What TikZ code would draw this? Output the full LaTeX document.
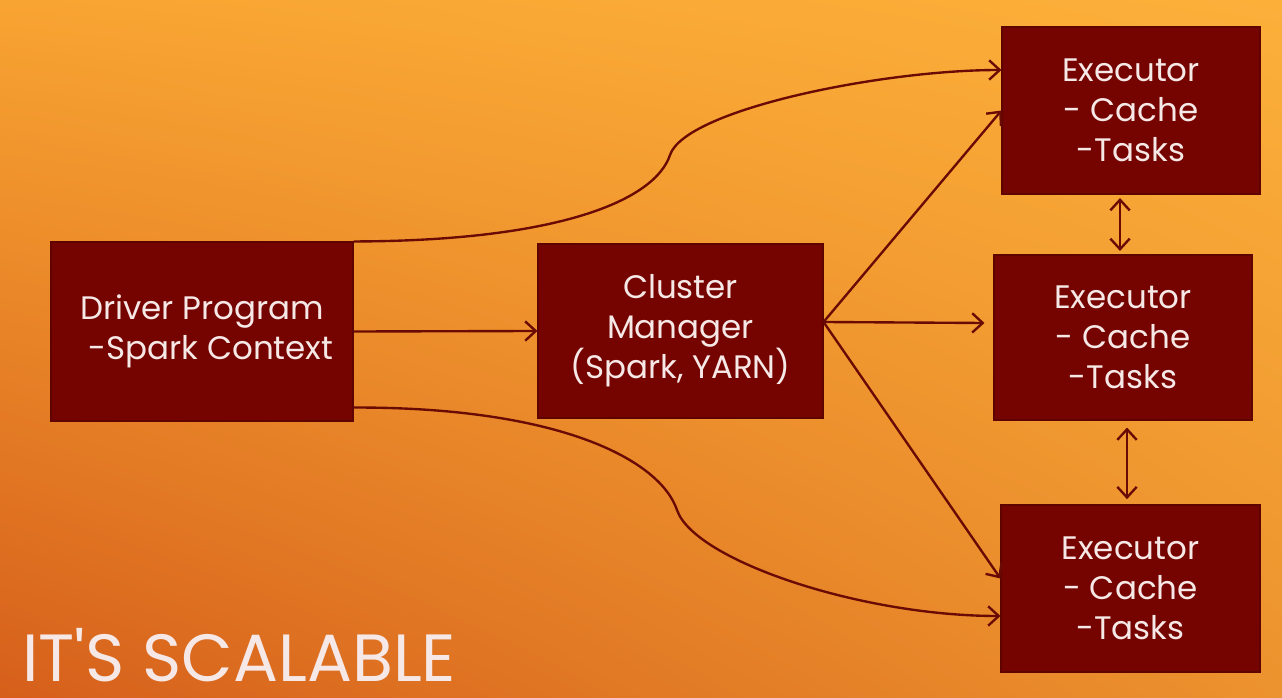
\documentclass[tikz,border=0pt]{standalone}
\usepackage{fontspec}
\setmainfont{Poppins}
\usetikzlibrary{arrows.meta,shadings}

\definecolor{boxred}{HTML}{750400}
\definecolor{boxline}{HTML}{5E0300}
\definecolor{boxtext}{HTML}{F6E8E6}
\definecolor{linkred}{HTML}{6A0A04}
\definecolor{bgul}{HTML}{F8A432}
\definecolor{bgur}{HTML}{FCB03A}
\definecolor{bgll}{HTML}{D65F1B}
\definecolor{bglr}{HTML}{EC922E}

\begin{document}
\begin{tikzpicture}[
  box/.style={draw=boxline, line width=0.6pt, fill=boxred, text=boxtext,
    align=center, inner sep=0pt, font=\fontsize{18.5}{22.7}\selectfont},
  tip/.style={},
  link/.style={draw=linkred, line width=1.35pt,
    -{Straight Barb[length=6pt,width=11pt,line width=1.35pt]}},
  both/.style={link, {Straight Barb[length=6pt,width=11pt,line width=1.35pt]}-{Straight Barb[length=6pt,width=11pt,line width=1.35pt]}}
]
% background
\shade[upper left=bgul, upper right=bgur, lower left=bgll, lower right=bglr]
  (0,0) rectangle (25.64,13.94);
\useasboundingbox (0,0) rectangle (25.64,13.94);

% boxes
\node[box, minimum width=6.04cm, minimum height=3.58cm] (drv) at (4.04,7.31)
  {Driver Program\\ \hspace*{0.36cm}-Spark Context};
\node[box, minimum width=5.70cm, minimum height=3.48cm] (cm) at (13.61,7.32)
  {Cluster\\Manager\\(Spark, YARN)};
\node[box, minimum width=5.16cm, minimum height=3.34cm] (ex1) at (22.62,11.73)
  {Executor\\- Cache\\-Tasks};
\node[box, minimum width=5.16cm, minimum height=3.30cm] (ex2) at (22.46,7.19)
  {Executor\\- Cache\\-Tasks};
\node[box, minimum width=5.18cm, minimum height=3.34cm] (ex3) at (22.61,2.17)
  {Executor\\- Cache\\-Tasks};

\node[anchor=base west, text=boxtext, inner sep=0pt,
  font=\fontsize{38}{38}\selectfont] (ttl) at (0.44,0.32) {IT\textquotesingle S SCALABLE};

% driver links
\draw[link] (drv.east) -- (cm.west);
\draw[link] (drv.north east) .. controls (11.20,9.12) and (13.10,9.94) .. (13.40,10.84)
  .. controls (13.70,11.74) and (17.60,12.54) .. ([yshift=0.81cm]ex1.west);
\draw[link] ([yshift=0.28cm]drv.south east) .. controls (11.20,5.80) and (13.20,4.74) .. (13.54,3.74)
  .. controls (13.88,2.74) and (17.20,1.62) .. ([yshift=-0.55cm]ex3.west);

% cluster manager links
\draw[link] ([yshift=0.18cm]cm.east) -- (ex1.west);
\draw[link] ([yshift=0.18cm]cm.east) -- ([xshift=-0.18cm,yshift=0.29cm]ex2.west);
\draw[link] ([yshift=0.18cm]cm.east) -- ([yshift=0.2cm]ex3.west);

% executor links
\draw[both, shorten <=2pt, shorten >=2pt] ([xshift=-0.06cm]ex2.north) -- ([xshift=-0.06cm]ex2.north |- ex1.south);
\draw[both, shorten <=4pt, shorten >=3pt] ([xshift=0.08cm]ex2.south) -- ([xshift=0.08cm]ex2.south |- ex3.north);
\end{tikzpicture}
\end{document}
